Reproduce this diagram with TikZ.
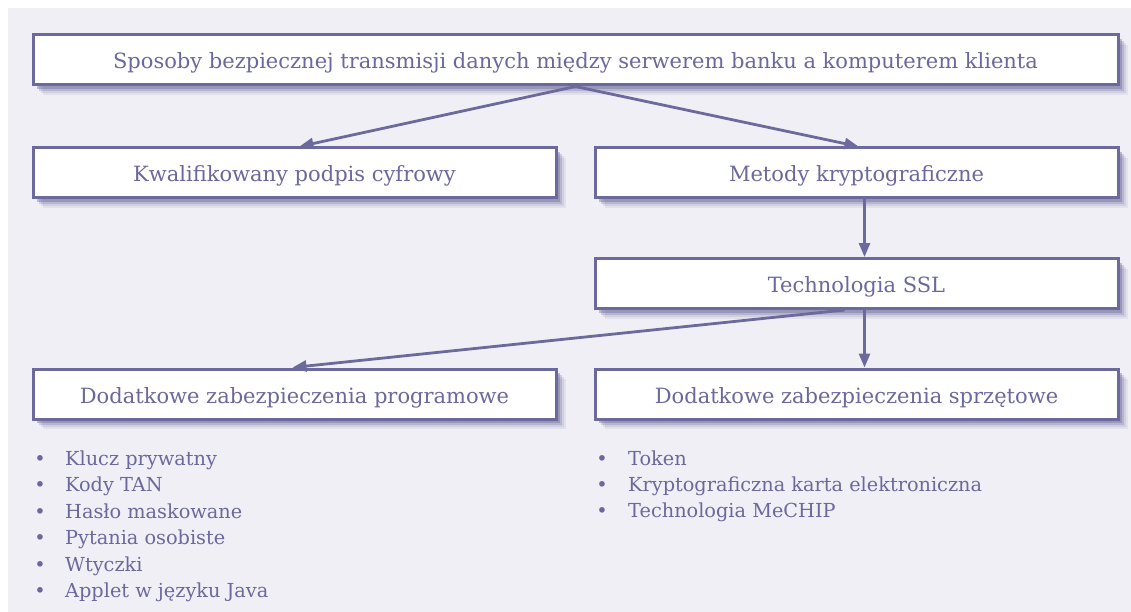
\documentclass[tikz,border=0pt]{standalone}
\usepackage{fontspec}
\setmainfont{DejaVu Serif}
\usetikzlibrary{arrows.meta,shadows,positioning}
\definecolor{bgc}{HTML}{F0EFF5}
\definecolor{edge}{HTML}{6C6A9C}
\definecolor{txt}{HTML}{6A689C}
\tikzset{
  box/.style={draw=edge, line width=3pt, fill=white, rectangle, minimum height=50pt,
    text=txt, font=\fontsize{21}{25}\selectfont, inner sep=0pt, text height=19pt, text depth=1pt,
    general shadow={fill=edge, opacity=0.10, shadow xshift=10pt, shadow yshift=-10pt},
    general shadow={fill=edge, opacity=0.15, shadow xshift=8pt, shadow yshift=-8pt},
    general shadow={fill=edge, opacity=0.25, shadow xshift=6pt, shadow yshift=-6pt},
    general shadow={fill=edge, opacity=0.40, shadow xshift=4pt, shadow yshift=-4pt}},
  conn/.style={draw=edge, line width=2.8pt, -{Triangle[length=14pt,width=11pt]}},
  item/.style={anchor=base west, text=txt, font=\fontsize{19.3}{23}\selectfont, inner sep=0pt},
  bul/.style={anchor=base, text=txt, font=\fontsize{19.3}{23}\selectfont, inner sep=0pt}
}
\begin{document}
\begin{tikzpicture}[x=1pt,y=-1pt]
\useasboundingbox (0,0) rectangle (1131,612);
\fill[white] (0,0) rectangle (1131,612);
\fill[bgc] (8,8) rectangle (1131,612);
\node[box, minimum width=1085pt] (top) at (575.5,60) {Sposoby bezpiecznej transmisji danych między serwerem banku a komputerem klienta};
\node[box, minimum width=523pt] (kw) at (294.5,173) {Kwalifikowany podpis cyfrowy};
\node[box, minimum width=523pt] (met) at (856.5,173) {Metody kryptograficzne};
\node[box, minimum width=523pt] (ssl) at (856.5,283.5) {Technologia SSL};
\node[box, minimum width=523pt] (prog) at (294.5,394) {Dodatkowe zabezpieczenia programowe};
\node[box, minimum width=523pt] (sprz) at (856.5,394) {Dodatkowe zabezpieczenia sprzętowe};
\draw[conn] (top.south) -- ([xshift=5pt]kw.north);
\draw[conn] (top.south) -- ([xshift=2pt]met.north);
\draw[conn] ([xshift=8pt]met.south) -- ([xshift=8pt]ssl.north);
\draw[conn] ([xshift=-12pt]ssl.south) -- ([xshift=-2pt]prog.north);
\draw[conn] ([xshift=8pt]ssl.south) -- ([xshift=8pt]sprz.north);
\foreach \t [count=\i] in {Klucz prywatny,Kody TAN,Hasło maskowane,Pytania osobiste,Wtyczki,Applet w języku Java}{
  \node[bul] (lb\i) at (40,{465+26.5*(\i-1)}) {\textbullet};
  \node[item] (lt\i) at (65,{465+26.5*(\i-1)}) {\t};
}
\foreach \t [count=\i] in {Token,Kryptograficzna karta elektroniczna,Technologia MeCHIP}{
  \node[bul] (rb\i) at (602,{465+26*(\i-1)}) {\textbullet};
  \node[item] (rt\i) at (628,{465+26*(\i-1)}) {\t};
}
\end{tikzpicture}
\end{document}
